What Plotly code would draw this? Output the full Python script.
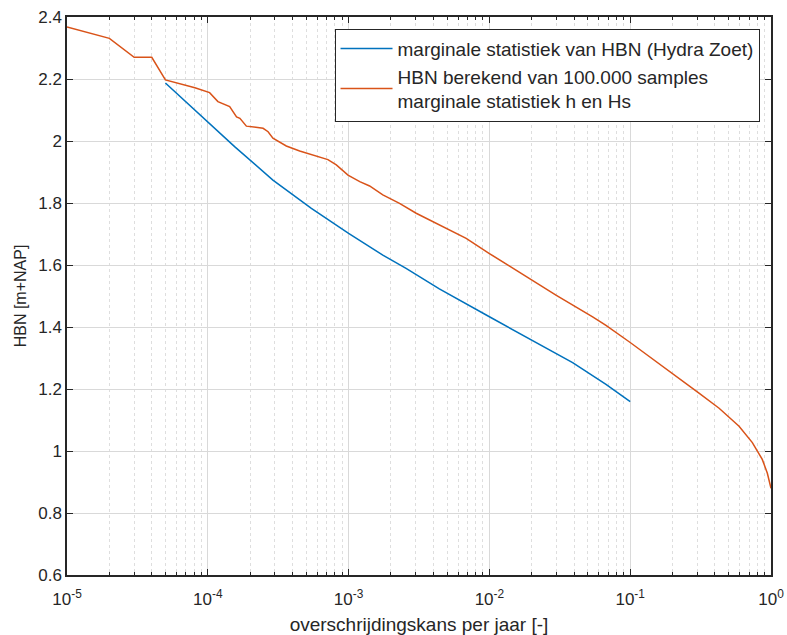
import plotly.graph_objects as go

# ---- data ----
p_blue = [5e-5, 1e-4, 1.55e-4, 2.9e-4, 5.44e-4, 1e-3, 1.75e-3, 2.56e-3,
          4.41e-3, 1e-2, 2.27e-2, 3.9e-2, 6.73e-2, 0.1]
h_blue = [2.187, 2.062, 1.982, 1.874, 1.783, 1.702, 1.632, 1.589,
          1.523, 1.433, 1.345, 1.285, 1.215, 1.159]

p_orange = [1e-5, 2e-5, 3e-5, 4e-5, 5e-5, 6.3e-5, 8.1e-5, 1.03e-4, 1.18e-4, 1.43e-4,
            1.60e-4, 1.69e-4, 1.88e-4, 2.47e-4, 2.68e-4, 2.90e-4, 3.61e-4, 4.49e-4,
            5.90e-4, 7.13e-4, 8.18e-4, 9.9e-4, 1.20e-3, 1.41e-3, 1.75e-3, 2.30e-3,
            3.02e-3, 3.96e-3, 5.20e-3, 6.84e-3, 1e-2, 1.545e-2, 2.97e-2, 5.41e-2,
            6.73e-2, 0.1, 0.161, 0.200, 0.308, 0.428, 0.593, 0.737, 0.867, 0.942, 1.0]
h_orange = [2.368, 2.331, 2.270, 2.270, 2.197, 2.186, 2.172, 2.156, 2.127, 2.111,
            2.078, 2.073, 2.048, 2.041, 2.030, 2.009, 1.984, 1.968,
            1.950, 1.940, 1.923, 1.890, 1.869, 1.855, 1.826, 1.799,
            1.767, 1.740, 1.713, 1.686, 1.637, 1.584, 1.503, 1.433,
            1.405, 1.350, 1.282, 1.250, 1.187, 1.138, 1.080, 1.027, 0.973, 0.928, 0.880]

x_major = [1e-5, 1e-4, 1e-3, 1e-2, 1e-1, 1]
x_labels = ["10<sup>-5</sup>", "10<sup>-4</sup>", "10<sup>-3</sup>",
            "10<sup>-2</sup>", "10<sup>-1</sup>", "10<sup>0</sup>"]
y_ticks = [0.6, 0.8, 1.0, 1.2, 1.4, 1.6, 1.8, 2.0, 2.2, 2.4]
y_labels = ["0.6", "0.8", "1", "1.2", "1.4", "1.6", "1.8", "2", "2.2", "2.4"]

name_blue = "marginale statistiek van HBN (Hydra Zoet)"
name_orange = "HBN berekend van 100.000 samples<br>marginale statistiek h en Hs"

x_minor = [k * 10.0 ** d for d in range(-5, 0) for k in range(2, 10)]

FONT = "Liberation Sans, Arial, sans-serif"
AX = "#262626"

fig = go.Figure()
fig.add_trace(go.Scatter(x=p_blue, y=h_blue, mode="lines", name=name_blue,
                         line=dict(color="#0072BD", width=1.5)))
fig.add_trace(go.Scatter(x=p_orange, y=h_orange, mode="lines", name=name_orange,
                         line=dict(color="#D95319", width=1.5)))

fig.update_layout(
    width=787, height=635,
    margin=dict(l=67, r=16, t=17, b=60),
    paper_bgcolor="white", plot_bgcolor="white",
    font=dict(family=FONT, size=17, color=AX),
    showlegend=True,
    legend=dict(x=0.380, y=0.979, xanchor="left", yanchor="top",
                bgcolor="white", bordercolor=AX, borderwidth=1,
                font=dict(family=FONT, size=19, color=AX),
                itemwidth=52, tracegroupgap=0),
)

fig.update_xaxes(
    type="log", range=[-5, 0], automargin=False,
    tickmode="array", tickvals=x_major, ticktext=x_labels,
    ticks="inside", ticklen=6, tickcolor=AX, ticklabelstandoff=8,
    showline=True, linecolor=AX, linewidth=1.5, mirror="allticks",
    showgrid=True, gridcolor="#d9d9d9", gridwidth=1,
    zeroline=False,
    tickfont=dict(family=FONT, size=17, color=AX),
    minor=dict(tickmode="array", tickvals=x_minor, ticks="inside", ticklen=3,
               tickcolor=AX, showgrid=True, gridcolor="#dedede", griddash="dot",
               gridwidth=1),
    title=dict(text="overschrijdingskans per jaar [-]",
               font=dict(family=FONT, size=19, color=AX), standoff=10),
)

fig.update_yaxes(
    range=[0.6, 2.4], automargin=False,
    tickmode="array", tickvals=y_ticks, ticktext=y_labels,
    ticks="inside", ticklen=6, tickcolor=AX,
    showline=True, linecolor=AX, linewidth=1.5, mirror="allticks",
    showgrid=True, gridcolor="#d9d9d9", gridwidth=1,
    zeroline=False,
    tickfont=dict(family=FONT, size=17, color=AX),
    title=dict(text="HBN [m+NAP]", font=dict(family=FONT, size=16, color=AX),
               standoff=8),
)

fig.write_html("out.html")
